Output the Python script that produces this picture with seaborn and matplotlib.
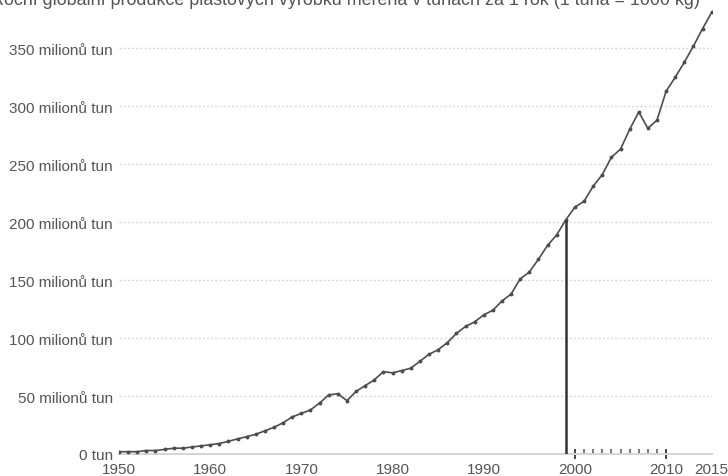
import matplotlib
matplotlib.use("Agg")
import matplotlib.pyplot as plt
import seaborn as sns
import pandas as pd

years = list(range(1950, 2016))
production_mt = [2, 2, 2, 3, 3, 4, 5, 5, 6, 7,
                 8, 9, 11, 13, 15, 17, 20, 23, 27, 32,
                 35, 38, 44, 51, 52, 46, 54, 59, 64, 71,
                 70, 72, 74, 80, 86, 90, 96, 104, 110, 114,
                 120, 124, 132, 138, 151, 157, 168, 180, 189, 202,
                 213, 218, 231, 241, 256, 263, 280, 295, 281, 288,
                 313, 325, 338, 352, 367, 381]
y_ticks = [0, 50, 100, 150, 200, 250, 300, 350]
y_labels = ["0 tun", "50 milionů tun", "100 milionů tun", "150 milionů tun",
            "200 milionů tun", "250 milionů tun", "300 milionů tun", "350 milionů tun"]
x_ticks = [1950, 1960, 1970, 1980, 1990, 2000, 2010, 2015]
small_ticks = [2001, 2002, 2003, 2004, 2005, 2006, 2007, 2008, 2009]
highlight_year = 1999
title = "Roční globální produkce plastových výrobků měřená v tunách za 1 rok (1 tuna = 1000 kg)"

df = pd.DataFrame({"year": years, "value": production_mt})

sns.set_theme(style="white")
plt.rcParams["font.family"] = ["Liberation Sans", "DejaVu Sans"]

fig = plt.figure(figsize=(7.28, 4.77), dpi=100)
W, H = 728, 477
px_per_m = (455 - 49.3) / 350
top_val = 400
ax = fig.add_axes([119 / W, 22 / H, 592.7 / W, top_val * px_per_m / H])
ax.set_xlim(1950, 2015)
ax.set_ylim(0, top_val)

for t in y_ticks[1:]:
    ax.axhline(t, color="#d9d9d9", lw=1, ls=(0, (1.5, 1.5)), zorder=0)

sns.lineplot(data=df, x="year", y="value", ax=ax, color="#4d4d4d", lw=1.2,
             marker="o", markersize=2.8, markeredgewidth=0, zorder=3)

hv = production_mt[years.index(highlight_year)]
ax.vlines(highlight_year, 0, hv, color="#333333", lw=1.8, zorder=4)

for s in ["top", "right", "left"]:
    ax.spines[s].set_visible(False)
ax.spines["bottom"].set_color("#d4d4d4")
ax.spines["bottom"].set_linewidth(1.4)

ax.set_yticks(y_ticks)
ax.set_yticklabels(y_labels)
ax.tick_params(axis="y", left=False, length=0, pad=4.3, labelsize=11, labelcolor="#555555")
ax.set_xticks(x_ticks)
ax.set_xticklabels([str(x) for x in x_ticks])
ax.tick_params(axis="x", which="major", bottom=True, length=7.9, width=1.4,
               direction="inout", color="#444444", pad=2, labelsize=11,
               labelcolor="#555555")
for tk, val in zip(ax.xaxis.get_major_ticks(), x_ticks):
    if val < 2000 or val == 2015:
        tk.tick1line.set_visible(False)
ax.set_xticks(small_ticks + [2015], minor=True)
ax.tick_params(axis="x", which="minor", bottom=True, length=3.6, width=1.1,
               direction="in", color="#555555")
ax.set_xlabel("")
ax.set_ylabel("")

fig.text(700 / W, 1 - 5 / H, title, ha="right", va="baseline",
         fontsize=12.9, color="#555555")

fig.savefig("out.png", dpi=100)
